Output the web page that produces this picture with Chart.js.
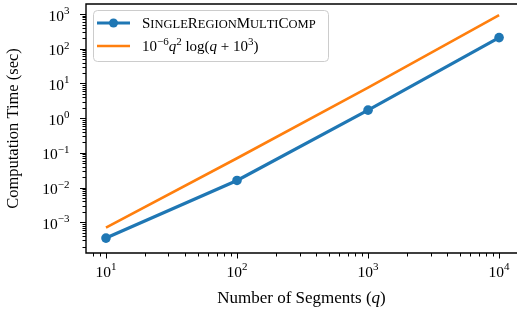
<!DOCTYPE html>
<html>
<head>
<meta charset="utf-8">
<script src="https://cdn.jsdelivr.net/npm/chart.js@4"></script>
<style>
html, body { margin: 0; padding: 0; background: #fff; }
#wrap { width: 517px; height: 309px; }
</style>
</head>
<body>
<div id="wrap"><canvas id="chart" width="517" height="309"></canvas></div>
<script>
// Data
const segments = [10, 100, 1000, 10000];
const singleRegionTimes = [3.5e-4, 1.6e-2, 1.7, 210];
const boundTimes = [7.0e-4, 7.0e-2, 7.6, 930];
const xTickValues = [10, 100, 1000, 10000];
const yTickValues = [1e-3, 1e-2, 1e-1, 1, 10, 100, 1000];
const xRange = [7.04, 13700];
const yRange = [1.3e-4, 1950];

const FONT = "'Liberation Serif', 'DejaVu Serif', serif";
const BLUE = '#1f77b4';
const ORANGE = '#ff7f0e';
const TICK_PX = 15.5;
const SUP_PX = 11;

function toPoints(xs, ys) {
    return xs.map((x, i) => ({ x: x, y: ys[i] }));
}

function expLabel(v) {
    const e = Math.round(Math.log10(v));
    return e < 0 ? '\u2212' + Math.abs(e) : String(e);
}

function minorValues(range) {
    const out = [];
    const lo = Math.floor(Math.log10(range[0]));
    const hi = Math.ceil(Math.log10(range[1]));
    for (let d = lo; d <= hi; d++) {
        for (let m = 2; m <= 9; m++) {
            const v = m * Math.pow(10, d);
            if (v >= range[0] && v <= range[1]) out.push(v);
        }
    }
    return out;
}

// pieces of mixed text: [text, size, style, raise]
function measurePieces(ctx, pieces) {
    let w = 0;
    pieces.forEach(p => {
        ctx.font = (p[2] || '') + ' ' + p[1] + 'px ' + FONT;
        w += ctx.measureText(p[0]).width;
    });
    return w;
}

function drawPieces(ctx, pieces, x, baseline) {
    ctx.textAlign = 'left';
    ctx.textBaseline = 'alphabetic';
    let cx = x;
    pieces.forEach(p => {
        ctx.font = (p[2] || '') + ' ' + p[1] + 'px ' + FONT;
        ctx.fillText(p[0], cx, baseline - (p[3] || 0));
        cx += ctx.measureText(p[0]).width;
    });
}

function powPieces(v) {
    return [['10', TICK_PX], [expLabel(v), SUP_PX, '', 6.5]];
}

// fake small caps like LaTeX \textsc
function smallCaps(text, big, small) {
    return text.split('').map(ch => ch === ch.toUpperCase()
        ? [ch, big] : [ch.toUpperCase(), small]);
}

const axesPlugin = {
    id: 'axesPlugin',
    afterDraw(chart) {
        const ctx = chart.ctx;
        const a = chart.chartArea;
        const xs = chart.scales.x;
        const ys = chart.scales.y;
        ctx.save();
        ctx.fillStyle = '#000';
        ctx.strokeStyle = '#000';

        // ticks
        ctx.lineWidth = 1;
        ctx.beginPath();
        xTickValues.forEach(v => {
            const px = Math.round(xs.getPixelForValue(v)) + 0.5;
            ctx.moveTo(px, a.bottom); ctx.lineTo(px, a.bottom + 5.5);
        });
        minorValues(xRange).forEach(v => {
            const px = Math.round(xs.getPixelForValue(v)) + 0.5;
            ctx.moveTo(px, a.bottom); ctx.lineTo(px, a.bottom + 3.5);
        });
        yTickValues.forEach(v => {
            const py = Math.round(ys.getPixelForValue(v)) + 0.5;
            ctx.moveTo(a.left, py); ctx.lineTo(a.left - 6, py);
        });
        minorValues(yRange).forEach(v => {
            const py = Math.round(ys.getPixelForValue(v)) + 0.5;
            ctx.moveTo(a.left, py); ctx.lineTo(a.left - 3.5, py);
        });
        ctx.stroke();

        // spines (right one falls outside the picture)
        ctx.lineWidth = 1.4;
        ctx.beginPath();
        ctx.moveTo(a.right + 2, a.top);
        ctx.lineTo(a.left, a.top);
        ctx.lineTo(a.left, a.bottom);
        ctx.lineTo(a.right + 2, a.bottom);
        ctx.stroke();

        // tick labels
        xTickValues.forEach(v => {
            const px = xs.getPixelForValue(v);
            const p = powPieces(v);
            const w = measurePieces(ctx, p);
            drawPieces(ctx, p, px - w / 2, a.bottom + 23.5);
        });
        yTickValues.forEach(v => {
            const py = ys.getPixelForValue(v);
            const p = powPieces(v);
            const w = measurePieces(ctx, p);
            drawPieces(ctx, p, 69.5 - w, py + 6.5);
        });

        // axis titles
        const xt = [['Number of Segments (', 17], ['q', 17, 'italic'], [')', 17]];
        const tw = measurePieces(ctx, xt);
        drawPieces(ctx, xt, (86 + 517) / 2 - tw / 2, 303);

        ctx.save();
        ctx.translate(18, (a.top + a.bottom) / 2);
        ctx.rotate(-Math.PI / 2);
        ctx.font = '16.5px ' + FONT;
        ctx.textAlign = 'center';
        ctx.textBaseline = 'alphabetic';
        ctx.fillText('Computation Time (sec)', 0, 0);
        ctx.restore();

        // legend
        const lx = 93, ly = 10, lw = 235, lh = 51;
        ctx.beginPath();
        ctx.roundRect(lx + 0.5, ly + 0.5, lw, lh, 4);
        ctx.fillStyle = 'rgba(255,255,255,0.8)';
        ctx.fill();
        ctx.strokeStyle = '#cccccc';
        ctx.lineWidth = 1;
        ctx.stroke();

        ctx.lineCap = 'butt';
        ctx.strokeStyle = BLUE;
        ctx.lineWidth = 3;
        ctx.beginPath(); ctx.moveTo(97, 23); ctx.lineTo(130, 23); ctx.stroke();
        ctx.fillStyle = BLUE;
        ctx.beginPath(); ctx.arc(113.5, 23, 4.5, 0, Math.PI * 2); ctx.fill();

        ctx.strokeStyle = ORANGE;
        ctx.lineWidth = 2.5;
        ctx.beginPath(); ctx.moveTo(97, 46); ctx.lineTo(130, 46); ctx.stroke();

        ctx.fillStyle = '#000';
        drawPieces(ctx, smallCaps('SingleRegionMultiComp', 15, 12.5), 142, 28);

        drawPieces(ctx, [
            ['10', 15], ['\u22126', 11, '', 6], ['q', 15, 'italic'], ['2', 11, '', 6],
            [' log(', 15], ['q', 15, 'italic'], [' + 10', 15], ['3', 11, '', 6], [')', 15]
        ], 142, 51);

        ctx.restore();
    }
};

const chart = new Chart(document.getElementById('chart').getContext('2d'), {
    type: 'line',
    data: {
        datasets: [{
            label: 'SingleRegionMultiComp',
            data: toPoints(segments, singleRegionTimes),
            borderColor: BLUE,
            backgroundColor: BLUE,
            borderWidth: 3.2,
            pointRadius: 4.8,
            pointHoverRadius: 4.8,
            pointBorderWidth: 0,
            tension: 0
        }, {
            label: '1e-6 q^2 log(q+1e3)',
            data: toPoints(segments, boundTimes),
            borderColor: ORANGE,
            backgroundColor: ORANGE,
            borderWidth: 2.6,
            pointRadius: 0,
            tension: 0
        }]
    },
    options: {
        responsive: false,
        animation: false,
        devicePixelRatio: 1,
        layout: { autoPadding: false, padding: { left: 0, top: 4, right: 0, bottom: 0 } },
        plugins: {
            legend: { display: false },
            tooltip: { enabled: false }
        },
        scales: {
            x: {
                type: 'logarithmic',
                min: xRange[0],
                max: xRange[1],
                grid: { display: false },
                border: { display: false },
                ticks: { display: false },
                afterFit: (s) => { s.height = 56; }
            },
            y: {
                type: 'logarithmic',
                min: yRange[0],
                max: yRange[1],
                grid: { display: false },
                border: { display: false },
                ticks: { display: false },
                afterFit: (s) => { s.width = 86; }
            }
        }
    },
    plugins: [axesPlugin]
});
</script>
</body>
</html>
